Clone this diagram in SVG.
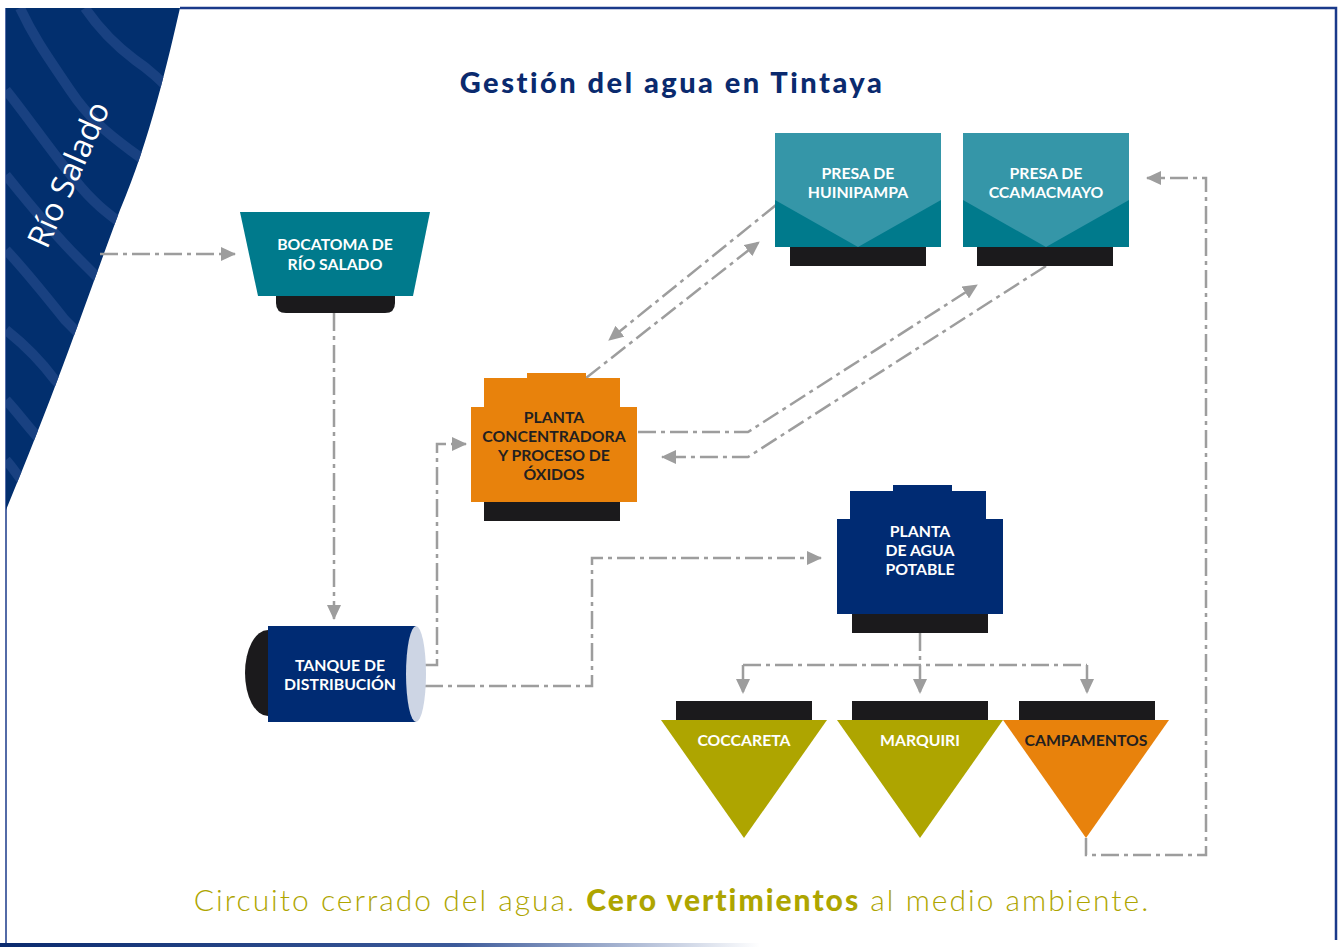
<svg xmlns="http://www.w3.org/2000/svg" width="1340" height="950" viewBox="0 0 1340 950">
<defs>
<style>
.c{fill:none;stroke:#9d9d9d;stroke-width:2.5;stroke-dasharray:18 5 4 5;marker-end:url(#ah)}
.n{fill:none;stroke:#9d9d9d;stroke-width:2.5;stroke-dasharray:18 5 4 5}
.lbl{font-family:Lato,"Liberation Sans",sans-serif;font-size:15.8px;font-weight:700;text-anchor:middle}
.w{fill:#ffffff}
.d{fill:#231f20}
.base{fill:#1b1a1c}
</style>
<marker id="ah" markerUnits="userSpaceOnUse" markerWidth="16" markerHeight="14" refX="14" refY="7" orient="auto">
<path d="M0,0 L15,7 L0,14 Z" fill="#9d9d9d"/>
</marker>
<linearGradient id="bl" x1="0" y1="0" x2="1" y2="0">
<stop offset="0" stop-color="#0a2a6e"/>
<stop offset="0.6" stop-color="#3c5a9a"/>
<stop offset="1" stop-color="#ffffff"/>
</linearGradient>
<clipPath id="rc">
<path d="M6,8 L180,8 C168,60 150,140 120,210 C90,290 60,380 6,510 Z"/>
</clipPath>
</defs>
<rect width="1340" height="950" fill="#ffffff"/>
<g id="frame">
<path d="M180,8 L1336,8 L1336,940" fill="none" stroke="#1a3a8a" stroke-width="2.5"/>
<path d="M6,8 L6,945" fill="none" stroke="#1a3a8a" stroke-width="1.5"/>
<rect x="0" y="943" width="760" height="4" fill="url(#bl)"/>
</g>
<g id="river">
<path d="M6,8 L180,8 C168,60 150,140 120,210 C90,290 60,380 6,510 Z" fill="#03306f"/>
<g clip-path="url(#rc)" fill="none" stroke="#1e4585" stroke-width="10" opacity="0.85">
<path d="M20,8 C35,40 50,60 70,90 C90,120 110,135 130,150 C145,160 155,170 165,180"/>
<path d="M85,8 C100,30 115,45 135,60 C150,70 160,80 175,95"/>
<path d="M6,90 C30,120 50,150 75,180 C95,205 110,215 130,230"/>
<path d="M6,175 C30,205 55,235 80,260 C95,275 105,285 115,295"/>
<path d="M6,250 C25,270 45,295 65,320 C75,330 85,340 95,350"/>
<path d="M6,330 C25,345 40,360 55,380 C65,390 70,395 75,400"/>
<path d="M6,400 C20,415 30,430 45,445"/>
<path d="M6,460 C15,470 20,480 30,490"/>
</g>
<text x="0" y="0" transform="translate(47,250) rotate(-66)" font-family="'Open Sans','Liberation Sans',sans-serif" font-size="32" fill="#ffffff">Río Salado</text>
</g>
<text id="title" x="672" y="93" text-anchor="middle" font-family="Lato,'Liberation Sans',sans-serif" font-weight="900" font-size="29" letter-spacing="2.5" fill="#0a2a6e">Gestión del agua en Tintaya</text>
<g id="connectors">
<path class="c" d="M100,254 L235,254"/>
<path class="c" d="M334,313 L334,619"/>
<path class="c" d="M425,665 L437,665 L437,444 L466,444"/>
<path class="c" d="M425,686 L592,686 L592,558 L821,558"/>
<path class="c" d="M776,205 L609,340"/>
<path class="c" d="M586,378 L759,242"/>
<path class="c" d="M638,432 L748,432 L977,285"/>
<path class="c" d="M1046,266 L748,457 L662,457"/>
<path class="c" d="M920,633 L920,693"/>
<path class="n" d="M743,665 L1087,665"/>
<path class="c" d="M743,665 L743,693"/>
<path class="c" d="M1087,665 L1087,693"/>
<path class="c" d="M1086,838 L1086,855 L1206,855 L1206,178 L1147,178"/>
</g>
<g id="bocatoma">
<path class="base" d="M276,296 L395,296 L395,303 Q395,313 385,313 L286,313 Q276,313 276,303 Z"/>
<path d="M240,212 L430,212 L413,296 L258,296 Z" fill="#007a8c"/>
<text class="lbl w" x="335" y="250">BOCATOMA DE</text>
<text class="lbl w" x="335" y="270">RÍO SALADO</text>
</g>
<g id="tanque">
<ellipse cx="268" cy="673" rx="23" ry="43" fill="#1b1a1c"/>
<rect x="268" y="626" width="148" height="96" fill="#002b73"/>
<ellipse cx="416" cy="674" rx="10" ry="48" fill="#cdd5e4"/>
<text class="lbl w" x="340" y="671">TANQUE DE</text>
<text class="lbl w" x="340" y="690">DISTRIBUCIÓN</text>
</g>
<g id="planta-concentradora">
<rect class="base" x="484" y="502" width="136" height="19"/>
<path d="M527,373 L586,373 L586,378 L620,378 L620,407 L637,407 L637,502 L471,502 L471,407 L484,407 L484,378 L527,378 Z" fill="#e8820c"/>
<text class="lbl d" x="554" y="423">PLANTA</text>
<text class="lbl d" x="554" y="442">CONCENTRADORA</text>
<text class="lbl d" x="554" y="461">Y PROCESO DE</text>
<text class="lbl d" x="554" y="480">ÓXIDOS</text>
</g>
<g id="presa-huinipampa">
<rect class="base" x="790" y="247" width="136" height="19"/>
<rect x="775" y="133" width="166" height="114" fill="#3596a8"/>
<path d="M775,200 L858,247 L941,200 L941,247 L775,247 Z" fill="#007a8c"/>
<text class="lbl w" x="858" y="179">PRESA DE</text>
<text class="lbl w" x="858" y="198">HUINIPAMPA</text>
</g>
<g id="presa-ccamacmayo">
<rect class="base" x="977" y="247" width="136" height="19"/>
<rect x="963" y="133" width="166" height="114" fill="#3596a8"/>
<path d="M963,200 L1046,247 L1129,200 L1129,247 L963,247 Z" fill="#007a8c"/>
<text class="lbl w" x="1046" y="179">PRESA DE</text>
<text class="lbl w" x="1046" y="198">CCAMACMAYO</text>
</g>
<g id="planta-potable">
<rect class="base" x="852" y="614" width="136" height="19"/>
<path d="M893,485 L952,485 L952,491 L986,491 L986,519 L1003,519 L1003,614 L837,614 L837,519 L850,519 L850,491 L893,491 Z" fill="#002b73"/>
<text class="lbl w" x="920" y="537">PLANTA</text>
<text class="lbl w" x="920" y="556">DE AGUA</text>
<text class="lbl w" x="920" y="575">POTABLE</text>
</g>
<g id="coccareta">
<rect class="base" x="676" y="701" width="136" height="19"/>
<path d="M661,720 L827,720 L744,838 Z" fill="#aea500"/>
<text class="lbl w" x="744" y="746">COCCARETA</text>
</g>
<g id="marquiri">
<rect class="base" x="852" y="701" width="136" height="19"/>
<path d="M837,720 L1003,720 L920,838 Z" fill="#aea500"/>
<text class="lbl w" x="920" y="746">MARQUIRI</text>
</g>
<g id="campamentos">
<rect class="base" x="1019" y="701" width="136" height="19"/>
<path d="M1003,720 L1169,720 L1086,838 Z" fill="#e8820c"/>
<text class="lbl d" x="1086" y="746">CAMPAMENTOS</text>
</g>
<text id="caption" x="672" y="911" text-anchor="middle" font-family="Lato,'Liberation Sans',sans-serif" font-weight="300" font-size="30" letter-spacing="2" fill="#aea500">Circuito cerrado del agua. <tspan font-weight="900">Cero vertimientos</tspan> al medio ambiente.</text>
</svg>
